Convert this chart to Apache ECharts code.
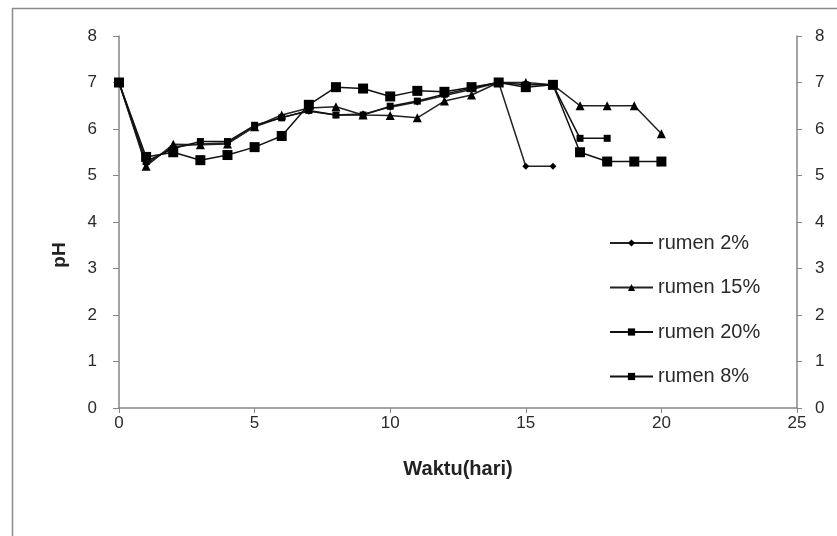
<!DOCTYPE html>
<html>
<head>
<meta charset="utf-8">
<style>
    html, body { margin: 0; padding: 0; background: #fff; }
    #main { width: 837px; height: 536px; }
</style>
</head>
<body>
<div id="main"></div>
<script src="https://cdn.jsdelivr.net/npm/echarts@6/dist/echarts.min.js"></script>
<script type="text/javascript">
    // hari pengamatan
    var days = [0, 1, 2, 3, 4, 5, 6, 7, 8, 9, 10, 11, 12, 13, 14, 15, 16, 17, 18, 19, 20];

    // nilai pH per perlakuan
    var rumen2 = [7.0, 5.25, 5.62, 5.68, 5.7, 6.05, 6.25, 6.38, 6.3, 6.32, 6.47, 6.58, 6.72, 6.85, 7.0, 5.2, 5.2];
    var rumen15 = [7.0, 5.2, 5.67, 5.66, 5.68, 6.05, 6.3, 6.45, 6.48, 6.3, 6.29, 6.24, 6.6, 6.73, 7.0, 7.0, 6.95, 6.5, 6.5, 6.5, 5.9];
    var rumen20 = [7.0, 5.3, 5.58, 5.73, 5.73, 6.08, 6.24, 6.4, 6.3, 6.3, 6.49, 6.6, 6.75, 6.88, 7.0, 6.95, 6.95, 5.8, 5.8];
    var rumen8 = [7.0, 5.4, 5.5, 5.33, 5.44, 5.61, 5.85, 6.52, 6.9, 6.87, 6.7, 6.82, 6.8, 6.9, 7.0, 6.9, 6.95, 5.5, 5.3, 5.3, 5.3];

    var seriesNames = ['rumen 2%', 'rumen 15%', 'rumen 20%', 'rumen 8%'];

    function pairs(vals) {
        return vals.map(function (v, i) { return [days[i], v]; });
    }

    var myChart = echarts.init(document.getElementById('main'));

    var axisGray = '#868686';
    var labelFont = 'Liberation Sans';

    var option = {
        animation: false,
        textStyle: { fontFamily: labelFont },
        grid: { left: 119, right: 40, top: 36, bottom: 128 },
        legend: {
            orient: 'vertical',
            left: 604,
            top: 228,
            itemWidth: 43,
            itemHeight: 9,
            itemGap: 24.5,
            data: seriesNames,
            textStyle: { fontSize: 20, color: '#2a2a2a', lineHeight: 20, fontFamily: labelFont }
        },
        xAxis: {
            type: 'value',
            min: 0,
            max: 25,
            interval: 5,
            name: 'Waktu(hari)',
            nameLocation: 'middle',
            nameGap: 51,
            nameTextStyle: { fontSize: 20, fontWeight: 'bold', color: '#222', fontFamily: labelFont },
            splitLine: { show: false },
            axisLine: { lineStyle: { color: axisGray, width: 1.5 } },
            axisTick: { show: true, length: 5, lineStyle: { color: axisGray } },
            axisLabel: { fontSize: 17, color: '#2a2a2a', margin: 7 }
        },
        yAxis: [{
            type: 'value',
            min: 0,
            max: 8,
            interval: 1,
            position: 'left',
            splitLine: { show: false },
            axisLine: { show: true, lineStyle: { color: axisGray, width: 1.5 } },
            axisTick: { show: true, length: 6, lineStyle: { color: axisGray } },
            axisLabel: { fontSize: 17, color: '#2a2a2a', margin: 22 }
        }, {
            type: 'value',
            min: 0,
            max: 8,
            interval: 1,
            position: 'right',
            splitLine: { show: false },
            axisLine: { show: true, lineStyle: { color: axisGray, width: 1.5 } },
            axisTick: { show: true, length: 5, lineStyle: { color: axisGray } },
            axisLabel: { fontSize: 17, color: '#2a2a2a', margin: 18 }
        }],
        graphic: [{
            type: 'rect',
            left: 10, top: 6,
            shape: { width: 900, height: 600 },
            style: { fill: 'none', stroke: '#8a8a8a', lineWidth: 1.5 },
            silent: true
        }, {
            type: 'text',
            x: 60, y: 255,
            rotation: Math.PI / 2,
            style: {
                text: 'pH',
                font: 'bold 19px "Liberation Sans"',
                fill: '#222',
                align: 'center',
                verticalAlign: 'middle'
            }
        }],
        series: [
            {
                name: seriesNames[0],
                type: 'line',
                data: pairs(rumen2),
                symbol: 'diamond',
                symbolSize: 7,
                lineStyle: { color: '#222', width: 1.5 },
                itemStyle: { color: '#000' }
            },
            {
                name: seriesNames[1],
                type: 'line',
                data: pairs(rumen15),
                symbol: 'triangle',
                symbolSize: 9,
                lineStyle: { color: '#222', width: 1.5 },
                itemStyle: { color: '#000' }
            },
            {
                name: seriesNames[2],
                type: 'line',
                data: pairs(rumen20),
                symbol: 'rect',
                symbolSize: 7,
                lineStyle: { color: '#111', width: 1.5 },
                itemStyle: { color: '#000' }
            },
            {
                name: seriesNames[3],
                type: 'line',
                data: pairs(rumen8),
                symbol: 'rect',
                symbolSize: 10,
                lineStyle: { color: '#111', width: 1.5 },
                itemStyle: { color: '#000' }
            }
        ]
    };

    myChart.setOption(option);
</script>
</body>
</html>
